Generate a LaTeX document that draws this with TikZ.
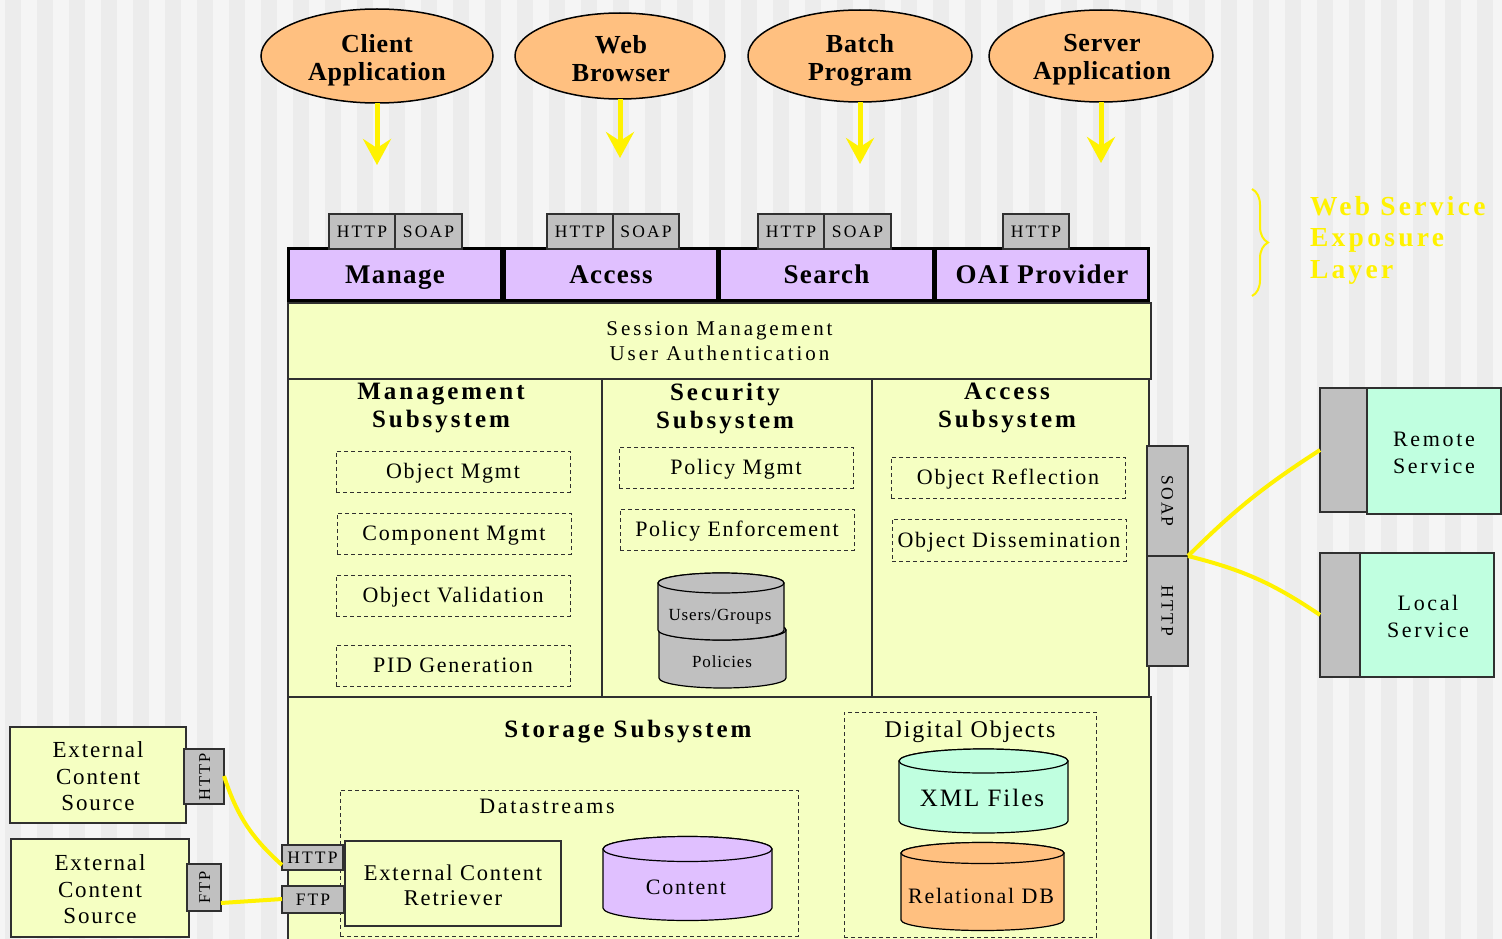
\documentclass[tikz,border=0pt]{standalone}
\usepackage{fontspec}
\setmainfont{Liberation Serif}
\newfontfamily\fA[LetterSpace=12]{Liberation Serif}
\newfontfamily\fS[LetterSpace=14]{Liberation Serif}
\newfontfamily\fB[LetterSpace=8]{Liberation Serif}
\newfontfamily\fC[LetterSpace=5]{Liberation Serif}
\newfontfamily\fE[LetterSpace=3]{Liberation Serif}
\usetikzlibrary{arrows.meta,decorations.pathreplacing,shapes.geometric}
\definecolor{bgA}{HTML}{F5F5F5}
\definecolor{bgB}{HTML}{ECECEC}
\definecolor{cream}{HTML}{F5FFC2}
\definecolor{lav}{HTML}{E0C0FF}
\definecolor{peach}{HTML}{FFC080}
\definecolor{mint}{HTML}{C0FFE0}
\definecolor{tabgray}{HTML}{C0C0C0}
\definecolor{edge}{HTML}{303030}
\newcommand\cylshape[6]{%
  \filldraw[draw=black, line width=1.2pt, fill=#6] (#1-#4,#2) -- (#1-#4,#3)
    arc[start angle=180, end angle=0, x radius=#4, y radius=#5] -- (#1+#4,#2)
    arc[start angle=0, end angle=-180, x radius=#4, y radius=#5] -- cycle;
  \filldraw[draw=black, line width=1.2pt, fill=#6] (#1,#2) ellipse[x radius=#4, y radius=#5];}
\tikzset{
  every node/.style={inner sep=0pt, outer sep=0pt},
  capht/.style={text height=#1, text depth=0pt},
  app/.style={ellipse, draw=black, line width=1.5pt, fill=peach},
  apptext/.style={align=center, font={\fE\bfseries\fontsize{26}{28}\selectfont}},
  proto/.style={draw=edge, line width=1.3pt, fill=tabgray, capht=12pt,
    font={\fA\fontsize{17.5}{18}\selectfont}},
  iface/.style={draw=black, line width=2.5pt, fill=lav, minimum width=213pt, minimum height=52pt,
    capht=18.5pt, font={\fC\bfseries\fontsize{27}{28}\selectfont}},
  panel/.style={draw=edge, line width=1.5pt, fill=cream},
  ttl/.style={align=center, font={\fA\bfseries\fontsize{25}{28}\selectfont}},
  dbox/.style={draw=edge, line width=1pt, dash pattern=on 4pt off 3pt, capht=14.5pt,
    font={\fB\fontsize{22}{25}\selectfont}},
  lbl/.style={font={\fB\fontsize{22}{25}\selectfont}},
  svc/.style={draw=edge, line width=1.5pt, fill=mint},
  svctext/.style={align=center, font={\fA\fontsize{22}{27}\selectfont}},
  svcg/.style={draw=edge, line width=1.5pt, fill=tabgray},
  ecs/.style={draw=edge, line width=1.5pt, fill=cream},
  ecstext/.style={align=center, font={\fB\fontsize{23}{26.5}\selectfont}},
  yarrow/.style={draw=yellow, line width=5pt, -{Stealth[length=26pt, width=28pt, inset=9pt, fill=yellow]}},
  yline/.style={draw=yellow, line width=4pt},
}
\begin{document}
\begin{tikzpicture}[x=1pt, y=-1pt]
\fill[bgA] (0,0) rectangle (1502,939);
\foreach \i in {0,...,46} \fill[bgB] ({5+32*\i},0) rectangle ({21+32*\i},939);
\useasboundingbox (0,0) rectangle (1502,939);

% client applications
\node[app, minimum width=232pt, minimum height=94pt] (client) at (377,56) {};
\node[app, minimum width=210pt, minimum height=86pt] (web) at (620,56) {};
\node[app, minimum width=224pt, minimum height=92pt] (batch) at (860,56) {};
\node[app, minimum width=224pt, minimum height=92pt] (server) at (1101,56) {};
\node[apptext] (clientL) at (377,60) {Client\\Application};
\node[apptext] (webL) at (621,59) {Web\\Browser};
\node[apptext] (batchL) at (860,60) {Batch\\Program};
\node[apptext] (serverL) at (1102,60) {Server\\Application};
\coordinate (clientT) at (377,165);
\coordinate (webT) at (620,158);
\coordinate (batchT) at (860,164);
\coordinate (serverT) at (1101,163);
\draw[yarrow] (client) -- (clientT);
\draw[yarrow] (web) -- (webT);
\draw[yarrow] (batch) -- (batchT);
\draw[yarrow] (server) -- (serverT);

% web service interfaces
\node[iface] (manage) at (395,274.5) {Manage};
\node[iface] (access) at (611,274.5) {Access};
\node[iface] (search) at (826.5,274.5) {Search};
\node[iface] (oai) at (1042,274.5) {OAI Provider};
\node[proto, minimum width=66pt, minimum height=35pt] (mhttp) at (362,231.5) {HTTP};
\node[proto, minimum width=67pt, minimum height=35pt] (msoap) at (428.5,231.5) {SOAP};
\node[proto, minimum width=66pt, minimum height=35pt] (ahttp) at (580,231.5) {HTTP};
\node[proto, minimum width=66pt, minimum height=35pt] (asoap) at (646,231.5) {SOAP};
\node[proto, minimum width=66pt, minimum height=35pt] (shttp) at (791,231.5) {HTTP};
\node[proto, minimum width=67pt, minimum height=35pt] (ssoap) at (857.5,231.5) {SOAP};
\node[proto, minimum width=66pt, minimum height=35pt] (ohttp) at (1036,231.5) {HTTP};

% brace and layer label
\draw[yellow, line width=2pt, decorate, decoration={brace, amplitude=16pt}] (1252,189) -- (1252,296);
\node[anchor=north west, align=left, text=yellow, font={\fA\bfseries\fontsize{27.5}{31.5}\selectfont}] (layer) at (1310,196) {Web Service\\Exposure\\Layer};

% session
\node[panel, minimum width=863pt, minimum height=76pt] (session) at (719.5,341) {};
\node[align=center, font={\fS\fontsize{21}{25}\selectfont}] (sessionL) at (719.5,341.5) {Session Management\\User Authentication};

% subsystems
\node[panel, minimum width=314pt, minimum height=318pt] (mgmt) at (445,538) {};
\node[panel, minimum width=270pt, minimum height=318pt] (secu) at (737,538) {};
\node[panel, minimum width=277pt, minimum height=318pt] (accs) at (1010.5,538) {};
\node[ttl] (mgmtT) at (441,408.5) {Management\\Subsystem};
\node[ttl] (secuT) at (725,408.5) {Security\\Subsystem};
\node[ttl] (accsT) at (1007,407.5) {Access\\Subsystem};

\node[dbox, minimum width=234pt, minimum height=41pt] (om) at (453,471.5) {Object Mgmt};
\node[dbox, minimum width=234pt, minimum height=41pt] (cm) at (454,533.5) {Component Mgmt};
\node[dbox, minimum width=234pt, minimum height=41pt] (ov) at (453,595.5) {Object Validation};
\node[dbox, minimum width=234pt, minimum height=41pt] (pid) at (453,665.5) {PID Generation};
\node[dbox, minimum width=234pt, minimum height=41pt] (pm) at (736,467.5) {Policy Mgmt};
\node[dbox, minimum width=234pt, minimum height=41pt] (pe) at (737,529.5) {Policy Enforcement};
\node[dbox, minimum width=234pt, minimum height=41pt] (orf) at (1008,477.5) {Object Reflection};
\node[dbox, minimum width=234pt, minimum height=42pt] (odis) at (1009,540) {Object Dissemination};

\cylshape{722.5}{630}{678}{63.5}{10}{tabgray}
\cylshape{721}{583}{630}{63}{10}{tabgray}
\node[capht=11.2pt, font={\fC\fontsize{17}{18}\selectfont}] (ug) at (720,614.5) {Users/Groups};
\node[capht=11.2pt, font={\fC\fontsize{17}{18}\selectfont}] (pol) at (722,661.5) {Policies};

% right side services
\node[proto, rotate=-90, minimum width=110pt, minimum height=41pt] (rsoap) at (1167.5,501) {SOAP};
\node[proto, rotate=-90, minimum width=110pt, minimum height=41pt] (rhttp) at (1167.5,611) {HTTP};
\node[svcg, minimum width=47pt, minimum height=124pt] (rg) at (1343.5,450) {};
\node[svc, minimum width=134pt, minimum height=126pt] (remote) at (1434,451) {};
\node[svctext] (remoteL) at (1434,452.5) {Remote\\Service};
\node[svcg, minimum width=40pt, minimum height=124pt] (lg) at (1340,615) {};
\node[svc, minimum width=134pt, minimum height=124pt] (local) at (1427,615) {};
\node[svctext] (localL) at (1428,616.5) {Local\\Service};
\coordinate (rj) at (1188,556);
\draw[yline] (rj) to[bend left=6] (rg.west);
\draw[yline] (rj) to[bend left=10] (lg.west);

% storage
\node[panel, minimum width=863pt, minimum height=250pt] (storage) at (719.5,822) {};
\node[capht=16.5pt, font={\fA\bfseries\fontsize{25}{28}\selectfont}] (storT) at (628,729.7) {Storage Subsystem};
\node[dbox, minimum width=458pt, minimum height=146pt] (dstr) at (569,863) {};
\node[capht=14.5pt, font={\fA\fontsize{22}{25}\selectfont}] (dstrT) at (547,806.7) {Datastreams};
\node[panel, minimum width=216pt, minimum height=85pt] (ecr) at (453,883.5) {};
\node[align=center, font={\fB\fontsize{22.5}{25}\selectfont}] (ecrL) at (453,885.5) {External Content\\Retriever};
\node[proto, minimum width=61pt, minimum height=25pt] (bhttp) at (312.5,857.5) {HTTP};
\node[proto, minimum width=62pt, minimum height=27pt] (bftp) at (313,899.5) {FTP};
\cylshape{687.5}{849}{908}{84.5}{12.5}{lav}
\node[lbl, capht=14.5pt] (content) at (686,887.7) {Content};

\node[dbox, minimum width=252pt, minimum height=225pt] (dobj) at (970,824.5) {};
\node[capht=15.8pt, font={\fB\fontsize{24}{26}\selectfont}] (dobjT) at (970,730) {Digital Objects};
\cylshape{983.5}{761}{821}{84.5}{12}{mint}
\node[capht=16.5pt, font={\fB\fontsize{25}{27}\selectfont}] (xml) at (982,798.7) {XML Files};
\cylshape{982.5}{853}{920}{81.5}{10.5}{peach}
\node[lbl, capht=14.5pt] (rdb) at (981,896.7) {Relational DB};

% external content sources
\node[ecs, minimum width=176pt, minimum height=96pt] (ecs1) at (98,775) {};
\node[ecstext] (ecs1L) at (98,776.5) {External\\Content\\Source};
\node[proto, rotate=90, minimum width=55pt, minimum height=40pt, font={\fA\fontsize{16.5}{17}\selectfont}] (ehttp) at (204,776.5) {HTTP};
\node[ecs, minimum width=178pt, minimum height=98pt] (ecs2) at (100,888) {};
\node[ecstext] (ecs2L) at (100,889.5) {External\\Content\\Source};
\node[proto, rotate=90, minimum width=47pt, minimum height=34pt, font={\fA\fontsize{16.5}{17}\selectfont}] (eftp) at (204,887.5) {FTP};
\coordinate (h1) at (224,776);
\coordinate (h2) at (282,865);
\coordinate (f1) at (221,903);
\coordinate (f2) at (282,899);
\draw[yline] (h1) to[bend right=15] (h2);
\draw[yline] (f1) -- (f2);
\end{tikzpicture}
\end{document}
